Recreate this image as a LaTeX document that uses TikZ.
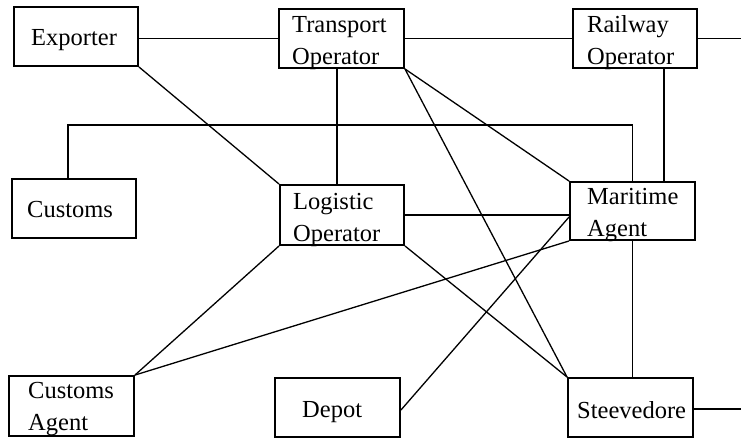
\documentclass[tikz,border=0pt]{standalone}
\usepackage{fontspec}
\setmainfont{Liberation Serif}
\begin{document}
\begin{tikzpicture}[x=1pt,y=-1pt,
  box/.style={draw, line width=1.9pt, minimum width=124pt, minimum height=59pt, inner sep=0pt},
  lbl/.style={anchor=base west, inner sep=0pt, font=\fontsize{24.5}{32}\selectfont},
  link/.style={line width=1.9pt},
  slant/.style={line width=1.3pt}]
\useasboundingbox[fill=white] (0,0) rectangle (741,439);

% boxes
\node[box] (exp) at (76,36.5) {};
\node[box, minimum width=125pt] (tro) at (341.5,38.5) {};
\node[box] (rly) at (635,38.5) {};
\node[box] (cus) at (74,208.5) {};
\node[box, minimum height=60pt] (lop) at (342,215) {};
\node[box, minimum width=125pt, minimum height=58pt] (mar) at (632.5,211) {};
\node[box, minimum width=125pt, minimum height=60pt] (cag) at (71.5,406) {};
\node[box, minimum width=125pt] (dep) at (337.5,407.5) {};
\node[box, minimum width=125pt] (ste) at (630.5,407.5) {};

% labels
\node[lbl] (exp-a) at (31,45) {Exporter};
\node[lbl] (tro-a) at (292,32) {Transport};
\node[lbl] (tro-b) at (292,64) {Operator};
\node[lbl] (rly-a) at (587,32) {Railway};
\node[lbl] (rly-b) at (587,64) {Operator};
\node[lbl] (cus-a) at (27,217) {Customs};
\node[lbl] (lop-a) at (293,209) {Logistic};
\node[lbl] (lop-b) at (293,241) {Operator};
\node[lbl] (mar-a) at (587,204) {Maritime};
\node[lbl] (mar-b) at (587,236) {Agent};
\node[lbl] (cag-a) at (28,398) {Customs};
\node[lbl] (cag-b) at (28,430) {Agent};
\node[lbl] (dep-a) at (302,417) {Depot};
\node[lbl] (ste-a) at (577,418) {Steevedore};

% loose ends leaving the page on the right
\coordinate (rly-out) at (741,38.5);
\coordinate (ste-out) at (741,409);

% straight connectors
\draw[link] (exp.east |- tro.west) -- (tro.west);
\draw[link] (tro.east) -- (rly.west);
\draw[link] (rly.east) -- (rly-out);
\draw[link] ([xshift=-4.5pt]tro.south) -- ([xshift=-5pt]lop.north);
\draw[link] ([xshift=29pt]rly.south) -- ([xshift=29pt]rly.south |- mar.north);
\draw[link] ([xshift=-6pt]cus.north) |- ([yshift=56pt]mar.north) -- (mar.north);
\draw[link] (lop.east) -- (lop.east -| mar.west);
\draw[link] (mar.south) -- (mar.south |- ste.north);
\draw[link] (ste.east |- ste-out) -- (ste-out);

% slanted connectors
\draw[slant] (exp.south east) -- (lop.north west);
\draw[slant] (tro.south east) -- (mar.north west);
\draw[slant] (tro.south east) -- (ste.north west);
\draw[slant] (lop.south west) -- (cag.north east);
\draw[slant] (lop.south east) -- (ste.north west);
\draw[slant] (cag.north east) -- (mar.south west);
\draw[slant] ([yshift=-2.5pt]dep.east) -- ([yshift=-6pt]mar.west);
\end{tikzpicture}
\end{document}
